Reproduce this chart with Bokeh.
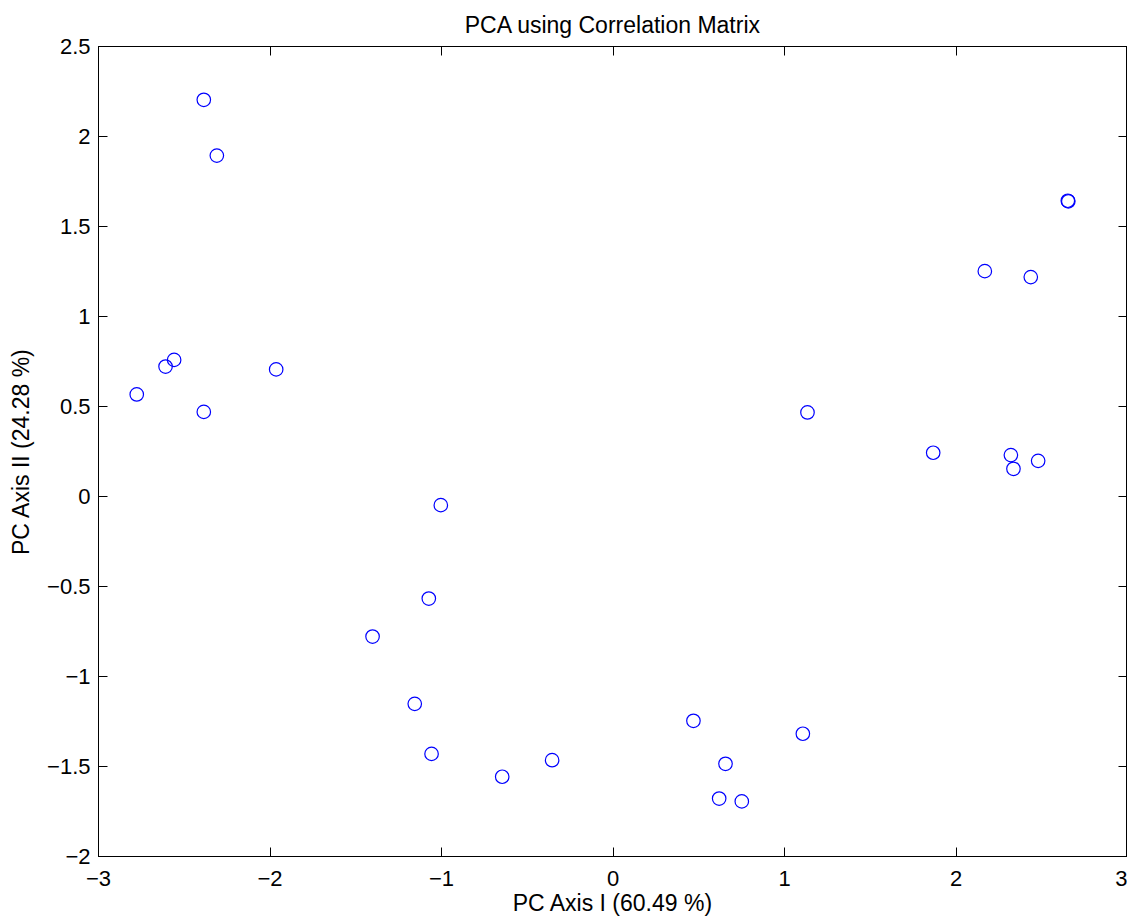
from bokeh.plotting import figure
from bokeh.models import Range1d, LinearAxis, FixedTicker
from bokeh.embed import file_html
from bokeh.resources import INLINE

# PCA scores
pc1 = [-2.386, -2.310, -2.559, -2.609, -1.964, -2.777, -2.386,
       2.652, 2.655, 2.168, 2.436, 1.867, 2.320, 2.335, 2.479, 1.134,
       -1.004, -1.074, -1.402, -1.156, -1.058, -0.646, -0.355,
       0.469, 1.107, 0.656, 0.619, 0.751]
pc2 = [2.204, 1.894, 0.759, 0.722, 0.706, 0.567, 0.470,
       1.643, 1.640, 1.252, 1.219, 0.243, 0.230, 0.154, 0.198, 0.467,
       -0.048, -0.567, -0.778, -1.152, -1.430, -1.557, -1.465,
       -1.246, -1.318, -1.485, -1.678, -1.694]

x_ticks = [-3, -2, -1, 0, 1, 2, 3]
y_ticks = [-2, -1.5, -1, -0.5, 0, 0.5, 1, 1.5, 2, 2.5]

title_text = "PCA using Correlation Matrix"
x_label = "PC Axis I (60.49 %)"
y_label = "PC Axis II (24.28 %)"

FONT = "Liberation Sans"
FS = "22px"
FS_LABEL = "23px"


def fmt(v):
    s = ("%g" % v)
    return s.replace("-", "\u2212")


p = figure(frame_width=1029, frame_height=810,
           x_range=Range1d(-3, 3), y_range=Range1d(-2, 2.5),
           output_backend="svg", toolbar_location=None,
           min_border_left=98, min_border_right=0,
           min_border_top=46, min_border_bottom=10,
           title=title_text)

p.title.text_font = FONT
p.title.text_font_size = FS_LABEL
p.title.text_font_style = "normal"
p.title.text_color = "black"
p.title.align = "center"
p.title.standoff = 17

p.grid.visible = False
p.outline_line_color = "black"
p.outline_line_width = 1
p.background_fill_color = "white"
p.border_fill_color = "white"

p.xaxis.ticker = FixedTicker(ticks=x_ticks)
p.yaxis.ticker = FixedTicker(ticks=y_ticks)
p.xaxis.major_label_overrides = {t: fmt(t) for t in x_ticks}
p.yaxis.major_label_overrides = {t: fmt(t) for t in y_ticks}
p.xaxis.axis_label = x_label
p.yaxis.axis_label = y_label

for ax in (p.xaxis[0], p.yaxis[0]):
    ax.axis_line_color = "black"
    ax.axis_line_width = 1
    ax.major_tick_in = 9
    ax.major_tick_out = 0
    ax.minor_tick_line_color = None
    ax.major_tick_line_color = "black"
    ax.major_label_text_font = FONT
    ax.major_label_text_font_size = FS
    ax.major_label_text_color = "black"
    ax.axis_label_text_font = FONT
    ax.axis_label_text_font_size = FS_LABEL
    ax.axis_label_text_font_style = "normal"
    ax.axis_label_text_color = "black"

p.xaxis.major_label_standoff = 14
p.xaxis.axis_label_standoff = 1
p.yaxis.major_label_standoff = 8
p.yaxis.axis_label_standoff = 10

# mirrored tick axes (top/right) like MATLAB box
top = LinearAxis(ticker=FixedTicker(ticks=x_ticks))
right = LinearAxis(ticker=FixedTicker(ticks=y_ticks))
for ax in (top, right):
    ax.major_tick_in = 9
    ax.major_tick_out = 0
    ax.minor_tick_line_color = None
    ax.major_label_text_font_size = "0px"
    ax.major_label_text_color = None
    ax.major_label_standoff = 0
    ax.axis_line_color = "black"
    ax.major_tick_line_color = "black"
p.add_layout(top, "above")
p.add_layout(right, "right")

p.scatter(pc1, pc2, marker="circle", size=13.5, fill_color=None,
          line_color="#0000ff", line_width=1.2)

open("out.html", "w").write(file_html(p, INLINE))
